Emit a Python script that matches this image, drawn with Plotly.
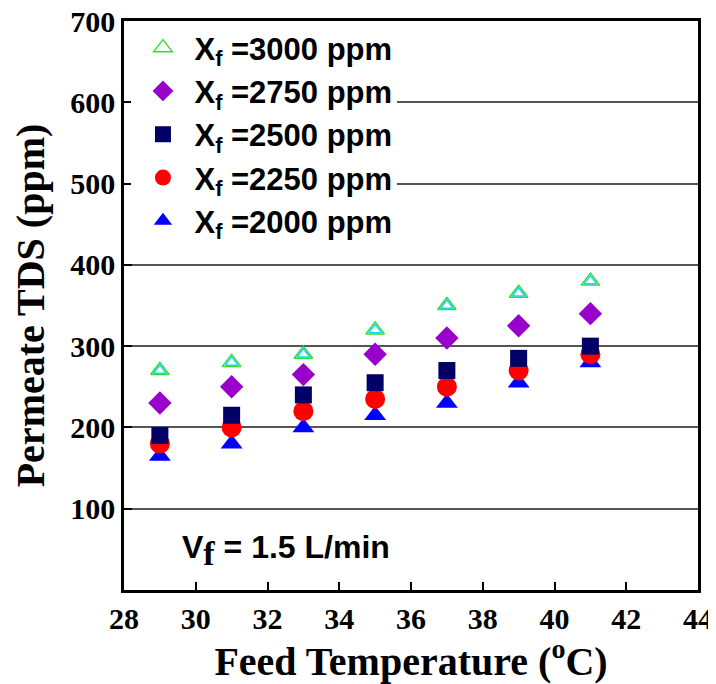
import plotly.graph_objects as go

temps = [29, 31, 33, 35, 37, 39, 41]
tds_3000 = [270, 280, 290, 320, 350, 365, 380]
tds_2750 = [230, 250, 265, 290, 310, 325, 340]
tds_2500 = [190, 215, 240, 255, 270, 285, 300]
tds_2250 = [180, 200, 220, 235, 250, 270, 290]
tds_2000 = [165, 180, 200, 215, 230, 255, 280]
x_ticks = [28, 30, 32, 34, 36, 38, 40, 42, 44]
y_ticks = [100, 200, 300, 400, 500, 600, 700]

fig = go.Figure()

series = [
    ("X<sub>f</sub> =2000 ppm", tds_2000, 5, dict(symbol="triangle-up", size=19, color="#0000FF")),
    ("X<sub>f</sub> =2250 ppm", tds_2250, 4, dict(symbol="circle", size=20, color="#FF0000")),
    ("X<sub>f</sub> =2500 ppm", tds_2500, 3, dict(symbol="square", size=17, color="#000066")),
    ("X<sub>f</sub> =2750 ppm", tds_2750, 2, dict(symbol="diamond", size=18, color="#9900CC")),
]
for name, vals, rank, mk in series:
    fig.add_trace(go.Scatter(x=temps, y=vals, mode="markers", name=name,
                             legendrank=rank, marker=mk))

fig.add_trace(go.Scatter(x=temps, y=tds_3000, mode="markers", name="X<sub>f</sub> =3000 ppm",
                         legendrank=1,
                         marker=dict(symbol="triangle-up", size=16, color="white",
                                     line=dict(color="#33DD33", width=1.5))))
fig.add_trace(go.Scatter(x=temps, y=tds_3000, mode="markers", showlegend=False,
                         hoverinfo="skip",
                         marker=dict(symbol="triangle-up-open", size=11,
                                     line=dict(color="#E8A0B0", width=1.5))))

tickfont = dict(family="Liberation Serif", size=30, color="black", weight="bold")
axis_common = dict(showline=True, linecolor="black", linewidth=2.5, mirror=True,
                   ticks="inside", ticklen=8, tickwidth=2, tickcolor="black",
                   zeroline=False, automargin=False, tickfont=tickfont,
                   ticklabeloverflow="allow")

fig.update_xaxes(range=[28, 44], tickvals=x_ticks, showgrid=False,
                 title=dict(text="Feed Temperature (<sup>o</sup>C)",
                            font=dict(family="Liberation Serif", size=40, color="black",
                                      weight="bold"),
                            standoff=6),
                 **axis_common)
fig.update_yaxes(range=[0, 700], tickvals=y_ticks, showgrid=True, gridcolor="#555555",
                 gridwidth=1.5,
                 title=dict(text="Permeate TDS (ppm)",
                            font=dict(family="Liberation Serif", size=40, color="black",
                                      weight="bold"),
                            standoff=14),
                 **axis_common)

fig.add_annotation(x=0.097, y=0.07, xref="paper", yref="paper", xanchor="left",
                   yanchor="middle", showarrow=False,
                   text="V<sub><span style='font-family:Liberation Serif;font-size:34px'>f</span></sub>&nbsp;= 1.5 L/min",
                   font=dict(family="Liberation Sans", size=32, color="black", weight="bold"))

# the page body has an 8px margin, so the figure is sized and offset to fit the 716x684 window
fig.update_layout(
    width=708, height=676,
    margin=dict(l=116, r=18, t=13, b=94),
    plot_bgcolor="white", paper_bgcolor="white",
    legend=dict(x=0.013, y=1.0, xanchor="left", yanchor="top",
                traceorder="normal", tracegroupgap=0,
                bgcolor="white", borderwidth=0,
                font=dict(family="Liberation Sans", size=31, color="black", weight="bold"),
                itemwidth=53),
)

fig.write_html("out.html")
